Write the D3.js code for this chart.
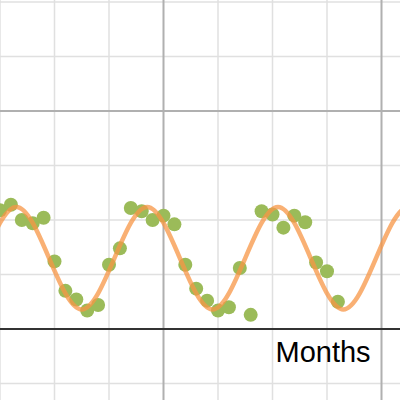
<!DOCTYPE html>
<html>
<head>
<meta charset="utf-8">
<script src="https://cdn.jsdelivr.net/npm/d3@7"></script>
<style>
  html, body { margin: 0; padding: 0; background: #fff; }
  svg { display: block; }
</style>
</head>
<body>
<svg id="chart" width="400" height="400"></svg>
<script>
// Monthly observations
const months = [5, 6, 7, 8, 9, 10, 11, 12, 13, 14, 15, 16, 17, 18, 19, 20,
                21, 22, 23, 24, 25, 26, 27, 28, 29, 30, 31, 32, 33, 34, 35, 36];
const observed = [10.9, 11.4, 10.0, 9.7, 10.2, 6.2, 3.5, 2.7, 1.7, 2.2, 5.9, 7.4,
                  11.1, 10.8, 10.0, 10.4, 9.6, 5.9, 3.7, 2.6, 1.7, 2.0, 5.6, 1.3,
                  10.8, 10.5, 9.3, 10.4, 9.8, 6.1, 5.3, 2.5];

// Seasonal fit, sampled at peaks, troughs and mid-crossings
const fitMonths = [3.5, 6.5, 9.5, 12.5, 15.5, 18.5, 21.5, 24.5, 27.5, 30.5, 33.5, 36.5, 39.5, 42.5, 45.5];
const fitValues = [6.5, 11.2, 6.5, 1.8, 6.5, 11.2, 6.5, 1.8, 6.5, 11.2, 6.5, 1.8, 6.5, 11.2, 6.5];

// Grid tick values
const xMinorTicks = [5, 10, 15, 25, 30, 35];
const xMajorTicks = [20, 40];
const yMinorTicks = [-5, 5, 10, 15, 25, 30];
const yMajorTicks = [20];
const xAxisLabel = "Months";

const W = 400, H = 400;
const svg = d3.select("#chart");

const x = d3.scaleLinear().domain([5, 40]).range([0, 381.5]);
const y = d3.scaleLinear().domain([0, 30]).range([329, 2]);

const grid = svg.append("g");
grid.selectAll("line.xminor").data(xMinorTicks).join("line")
  .attr("x1", d => x(d)).attr("x2", d => x(d)).attr("y1", 0).attr("y2", H)
  .attr("stroke", "#e0e0e0").attr("stroke-width", 1.5);
grid.selectAll("line.yminor").data(yMinorTicks).join("line")
  .attr("y1", d => y(d)).attr("y2", d => y(d)).attr("x1", 0).attr("x2", W)
  .attr("stroke", "#e0e0e0").attr("stroke-width", 1.5);
grid.selectAll("line.xmajor").data(xMajorTicks).join("line")
  .attr("x1", d => x(d)).attr("x2", d => x(d)).attr("y1", 0).attr("y2", H)
  .attr("stroke", "#b0b0b0").attr("stroke-width", 2);
grid.selectAll("line.ymajor").data(yMajorTicks).join("line")
  .attr("y1", d => y(d)).attr("y2", d => y(d)).attr("x1", 0).attr("x2", W)
  .attr("stroke", "#b0b0b0").attr("stroke-width", 2);

// x axis (zero line)
svg.append("line")
  .attr("x1", 0).attr("x2", W).attr("y1", y(0)).attr("y2", y(0))
  .attr("stroke", "#333").attr("stroke-width", 2);

// Observed points
svg.append("g").selectAll("circle").data(months).join("circle")
  .attr("cx", (d) => x(d))
  .attr("cy", (d, i) => y(observed[i]))
  .attr("r", 7)
  .attr("fill", "#9bbb59");

// Fitted seasonal curve
const fitLine = d3.line()
  .x((d, i) => x(fitMonths[i]))
  .y(d => y(d))
  .curve(d3.curveNatural);
svg.append("path")
  .datum(fitValues)
  .attr("d", fitLine)
  .attr("fill", "none")
  .attr("stroke", "#f79646")
  .attr("stroke-opacity", 0.75)
  .attr("stroke-width", 4.5);

// Axis title
svg.append("text")
  .attr("x", 275.5).attr("y", 362)
  .attr("font-family", "'Liberation Sans', Arial, sans-serif")
  .attr("font-size", 29)
  .attr("fill", "#000")
  .text(xAxisLabel);
</script>
</body>
</html>
